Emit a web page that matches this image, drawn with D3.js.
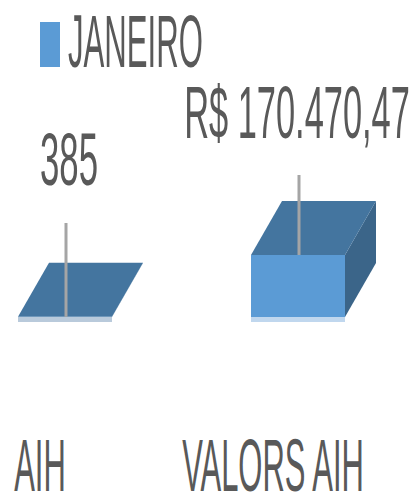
<!DOCTYPE html>
<html>
<head>
<meta charset="utf-8">
<script src="https://cdn.jsdelivr.net/npm/d3@7"></script>
<style>
  body { margin: 0; background: #fff; }
  text { font-family: "Liberation Sans", Arial, sans-serif; fill: #595959; }
</style>
</head>
<body>
<div id="chart"></div>
<script>
// data
const categories = ["AIH", "VALORS AIH"];
const values = [385, 170470.47];
const valueLabels = ["385", "R$ 170.470,47"];
const seriesName = "JANEIRO";

const W = 416, H = 493;
const baseY = 317;          // floor line of the bars
const barH = 62;            // height of the tallest bar
const barW = 94;
const depth = {dx: 31, dy: -54};

const svg = d3.select("#chart").append("svg")
    .attr("width", W)
    .attr("height", H);

const x = d3.scalePoint()
    .domain(categories)
    .range([65, 298]);

const y = d3.scaleLinear()
    .domain([0, d3.max(values)])
    .range([baseY, baseY - barH]);

// condensed text helper: squeeze horizontally
function label(g, txt, cx, cy, sx) {
    g.append("g")
        .attr("transform", "translate(" + cx + "," + cy + ") scale(" + sx + ",1)")
        .append("text")
        .attr("text-anchor", "middle")
        .attr("font-size", 74)
        .text(txt);
}

// legend
svg.append("rect")
    .attr("x", 40).attr("y", 22)
    .attr("width", 20).attr("height", 45)
    .attr("fill", "#5b9bd5");
svg.append("g")
    .attr("transform", "translate(68,67) scale(0.415,1)")
    .append("text")
    .attr("font-size", 75)
    .text(seriesName);

const bars = svg.append("g").attr("class", "bars");

categories.forEach((c, i) => {
    const x0 = x(c) - barW / 2, x1 = x0 + barW;
    const yt = y(values[i]);
    const g = bars.append("g");

    // floor edge
    g.append("rect")
        .attr("x", x0).attr("y", baseY)
        .attr("width", barW).attr("height", 5)
        .attr("fill", i == 0 ? "#b9cadb" : "#c0d7ee");

    // side face
    g.append("path")
        .attr("d", "M" + x1 + "," + yt + "L" + (x1 + depth.dx) + "," + (yt + depth.dy) +
            "L" + (x1 + depth.dx) + "," + (baseY + depth.dy) + "L" + x1 + "," + baseY + "Z")
        .attr("fill", "#3b6589");

    // top face
    g.append("path")
        .attr("d", "M" + x0 + "," + yt + "L" + (x0 + depth.dx) + "," + (yt + depth.dy) +
            "L" + (x1 + depth.dx) + "," + (yt + depth.dy) + "L" + x1 + "," + yt + "Z")
        .attr("fill", "#44759f");

    // front face
    g.append("rect")
        .attr("x", x0).attr("y", yt)
        .attr("width", barW).attr("height", baseY - yt)
        .attr("fill", "#5b9bd5");
});

// leader lines
const leaderTop = [223, 175];
categories.forEach((c, i) => {
    svg.append("line")
        .attr("x1", x(c) + 1).attr("x2", x(c) + 1)
        .attr("y1", leaderTop[i]).attr("y2", y(values[i]))
        .attr("stroke", "#a5a5a5")
        .attr("stroke-width", 3);
});

// value labels
const labels = svg.append("g");
label(labels, valueLabels[0], x(categories[0]) + 4, 185, 0.47);
label(labels, valueLabels[1], x(categories[1]) - 1, 138, 0.465);

// category labels
categories.forEach(c => {
    label(svg, c, x(c) - 25, 491, 0.418);
});
</script>
</body>
</html>
